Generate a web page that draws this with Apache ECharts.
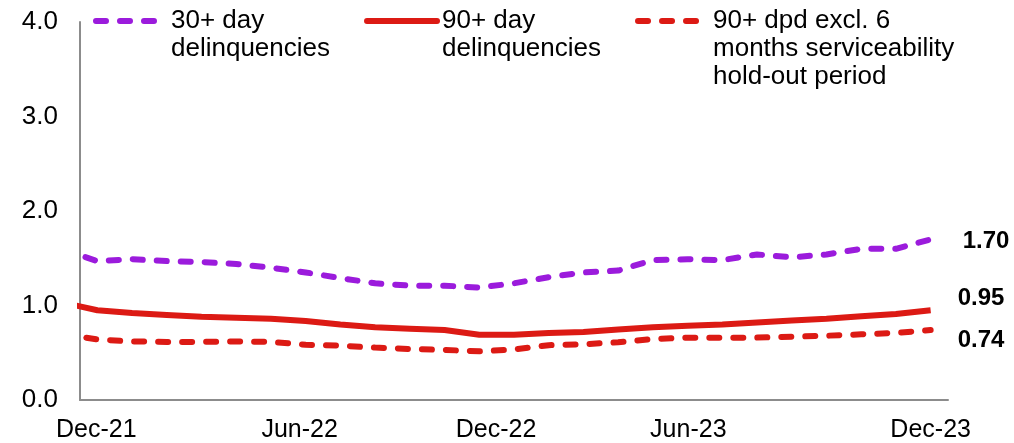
<!DOCTYPE html>
<html>
<head>
<meta charset="utf-8">
<script src="https://cdn.jsdelivr.net/npm/echarts@6/dist/echarts.min.js"></script>
<style>
html,body{margin:0;padding:0;background:#fff;}
#chart{width:1014px;height:443px;}
</style>
</head>
<body>
<div id="chart"></div>
<script>
// Months (first point Nov-21 lies just left of the plotted range and is clipped)
const months = ['Nov-21','Dec-21','Jan-22','Feb-22','Mar-22','Apr-22','May-22','Jun-22','Jul-22','Aug-22','Sep-22','Oct-22','Nov-22','Dec-22','Jan-23','Feb-23','Mar-23','Apr-23','May-23','Jun-23','Jul-23','Aug-23','Sep-23','Oct-23','Nov-23','Dec-23'];
const xTickLabels = ['Dec-21','Jun-22','Dec-22','Jun-23','Dec-23'];
const yTicks = [0, 1, 2, 3, 4];
const seriesNames = ['30+ day\ndelinquencies', '90+ day\ndelinquencies', '90+ dpd excl. 6\nmonths serviceability\nhold-out period'];
const delinq30 = [1.59,1.47,1.49,1.47,1.46,1.44,1.40,1.35,1.29,1.235,1.21,1.21,1.19,1.235,1.30,1.35,1.37,1.48,1.49,1.48,1.54,1.51,1.54,1.60,1.60,1.70];
const delinq90 = [1.03,0.95,0.92,0.90,0.88,0.87,0.86,0.835,0.80,0.77,0.755,0.74,0.69,0.69,0.71,0.72,0.745,0.77,0.785,0.80,0.82,0.84,0.86,0.885,0.91,0.95];
const delinq90excl = [0.70,0.64,0.62,0.615,0.615,0.62,0.615,0.585,0.575,0.555,0.54,0.53,0.515,0.535,0.58,0.59,0.61,0.645,0.66,0.66,0.66,0.67,0.68,0.695,0.71,0.74];

const PURPLE = '#9B1BDC';
const RED = '#DC1A14';
const FONT = 'Liberation Sans, Arial, sans-serif';

function toPairs(arr) { return arr.map((v, i) => [i - 1, v]); }
const tickIdx = xTickLabels.map(l => months.indexOf(l) - 1);
// horizontal nudges (px, leftwards) to mimic the reference label placement
const labelNudge = [1, 6, 18, 34, 0];
const rich = {};
labelNudge.forEach((n, i) => { rich['t' + i] = { padding: [0, 2 * n, 0, 0], fontSize: 25, fontFamily: FONT, color: '#000' }; });

const chart = echarts.init(document.getElementById('chart'));
const endLabelBase = { show: true, fontSize: 24, fontWeight: 'bold', fontFamily: FONT, color: '#000', formatter: p => p.value[1].toFixed(2) };

chart.setOption({
  animation: false,
  grid: { left: 80, right: 66, top: 22, bottom: 41, containLabel: false },
  legend: {
    left: 93, top: -49, padding: 0, orient: 'horizontal',
    itemWidth: 70, itemHeight: 14, itemGap: 34,
    itemStyle: { opacity: 0 },
    lineStyle: { width: 6, cap: 'round' },
    textStyle: { fontSize: 26, fontFamily: FONT, color: '#000', lineHeight: 28 },
    // pad with leading blank lines so the first text line sits level with the icon
    formatter: name => '\n'.repeat(name.split('\n').length - 1) + name,
    data: seriesNames
  },
  xAxis: {
    type: 'value', min: -0.5, max: 24.5,
    axisLine: { show: true, onZero: false, lineStyle: { color: '#8c8c8c', width: 2 } },
    axisTick: { show: false },
    splitLine: { show: false },
    axisLabel: {
      customValues: tickIdx, margin: 18,
      fontSize: 25, fontFamily: FONT, color: '#000',
      formatter: v => { const i = tickIdx.indexOf(Math.round(v)); return i < 0 ? '' : '{t' + i + '|' + xTickLabels[i] + '}'; },
      rich: rich
    }
  },
  yAxis: {
    type: 'value', min: 0, max: 4, interval: 1,
    axisLine: { show: true, onZero: false, lineStyle: { color: '#8c8c8c', width: 2 } },
    axisTick: { show: false },
    splitLine: { show: false },
    axisLabel: { margin: 22, fontSize: 26, fontFamily: FONT, color: '#000', formatter: v => yTicks.indexOf(v) >= 0 ? v.toFixed(1) : '' }
  },
  series: [
    {
      name: seriesNames[0], type: 'line', symbol: 'none', clip: true, data: toPairs(delinq30),
      lineStyle: { color: PURPLE, width: 6, type: [10, 14], cap: 'round' }, itemStyle: { color: PURPLE },
      endLabel: Object.assign({}, endLabelBase, { distance: 32, offset: [0, 2] }), z: 3
    },
    {
      name: seriesNames[1], type: 'line', symbol: 'none', clip: true, data: toPairs(delinq90),
      lineStyle: { color: RED, width: 6, type: 'solid' }, itemStyle: { color: RED },
      endLabel: Object.assign({}, endLabelBase, { distance: 27, offset: [0, -12] }), z: 2
    },
    {
      name: seriesNames[2], type: 'line', symbol: 'none', clip: true, data: toPairs(delinq90excl),
      lineStyle: { color: RED, width: 6, type: [10, 14], cap: 'round' }, itemStyle: { color: RED },
      endLabel: Object.assign({}, endLabelBase, { distance: 27, offset: [0, 10] }), z: 2
    }
  ]
});
</script>
</body>
</html>
